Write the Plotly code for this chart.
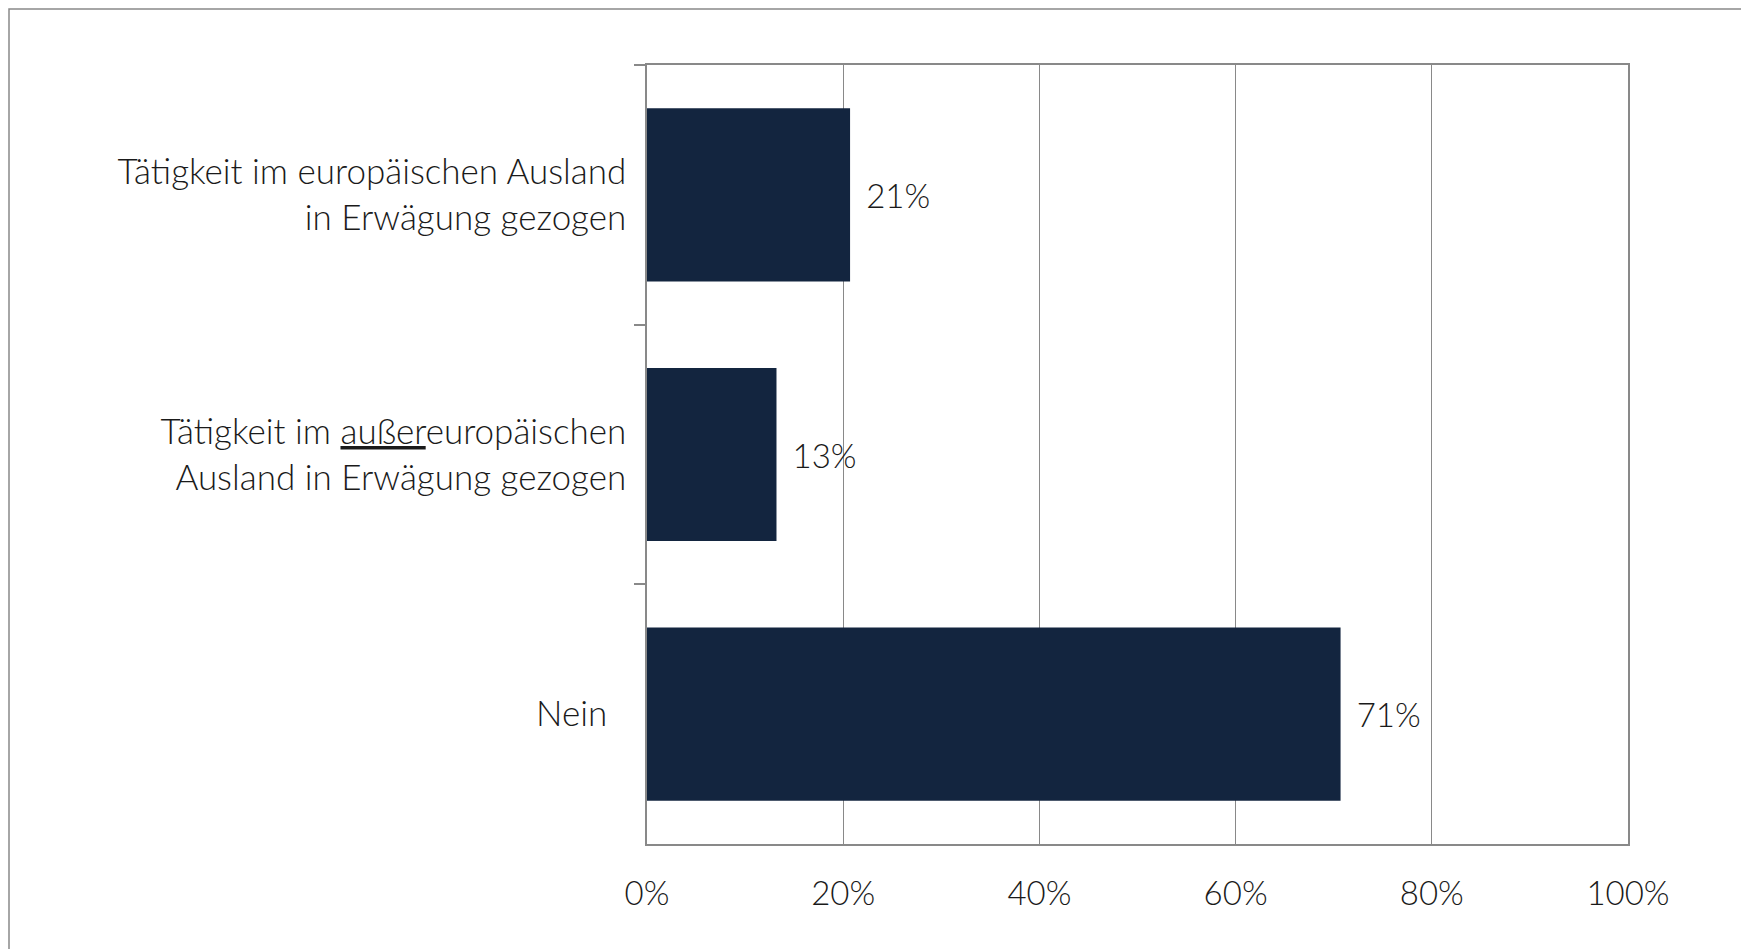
import plotly.graph_objects as go

categories = [
    "Tätigkeit im europäischen Ausland<br>in Erwägung gezogen",
    "Tätigkeit im <u>außer</u>europäischen<br>Ausland in Erwägung gezogen",
    "Nein\u00a0\u00a0",
]
values = [20.7, 13.2, 70.7]
value_labels = ["21%", "13%", "71%"]
x_ticks = [0, 20, 40, 60, 80, 100]
x_tick_labels = ["0%", "20%", "40%", "60%", "80%", "100%"]

# page has 8px body margin -> figure coordinates = page coordinates - 8
OFF = 8
W, H = 1749 - OFF, 949 - OFF
PL, PR, PT, PB = 647, 1628, 65, 844  # plot area in page pixels
L, T = PL - OFF, PT - OFF
R, B = W - (PR - OFF), H - (PB - OFF)
FONT = "Lato"
GRAY = "#898989"
TXT = "#1a1a1a"

fig = go.Figure(
    go.Bar(
        y=categories,
        x=values,
        orientation="h",
        marker=dict(color="#13253f", line=dict(width=0)),
        text=value_labels,
        texttemplate="\u00a0\u2009%{text}",
        textposition="outside",
        cliponaxis=False,
        textfont=dict(family=FONT, size=33, color=TXT, weight=300),
        hoverinfo="skip",
    )
)

px_x = lambda px: (px - PL) / (PR - PL)
px_y = lambda py: (PB - py) / (PB - PT)

fig.update_layout(
    width=W,
    height=H,
    margin=dict(l=L, r=R, t=T, b=B),
    paper_bgcolor="white",
    plot_bgcolor="white",
    bargap=0.333,
    showlegend=False,
    font=dict(family=FONT, size=33, color=TXT, weight=300),
    shapes=[
        dict(
            type="rect", xref="paper", yref="paper",
            x0=px_x(OFF + 1), x1=px_x(1790), y0=px_y(OFF + 1), y1=px_y(990),
            line=dict(color=GRAY, width=1.5), fillcolor="rgba(0,0,0,0)",
            layer="below",
        )
    ],
)

fig.update_xaxes(
    range=[0, 100],
    tickvals=x_ticks,
    ticktext=x_tick_labels,
    showgrid=True,
    gridcolor=GRAY,
    gridwidth=1.2,
    zeroline=False,
    showline=True,
    linecolor=GRAY,
    linewidth=2,
    mirror=True,
    ticks="",
    ticklabelstandoff=19,
    tickfont=dict(family=FONT, size=33, color=TXT, weight=300),
)

fig.update_yaxes(
    categoryorder="array",
    categoryarray=categories,
    autorange="reversed",
    showgrid=False,
    zeroline=False,
    showline=True,
    linecolor=GRAY,
    linewidth=1.5,
    mirror=True,
    ticks="outside",
    tickson="boundaries",
    ticklen=11,
    tickcolor=GRAY,
    tickwidth=1.5,
    ticklabelstandoff=12,
    tickfont=dict(family=FONT, size=35, color=TXT, weight=300),
)

fig.write_html("out.html")
